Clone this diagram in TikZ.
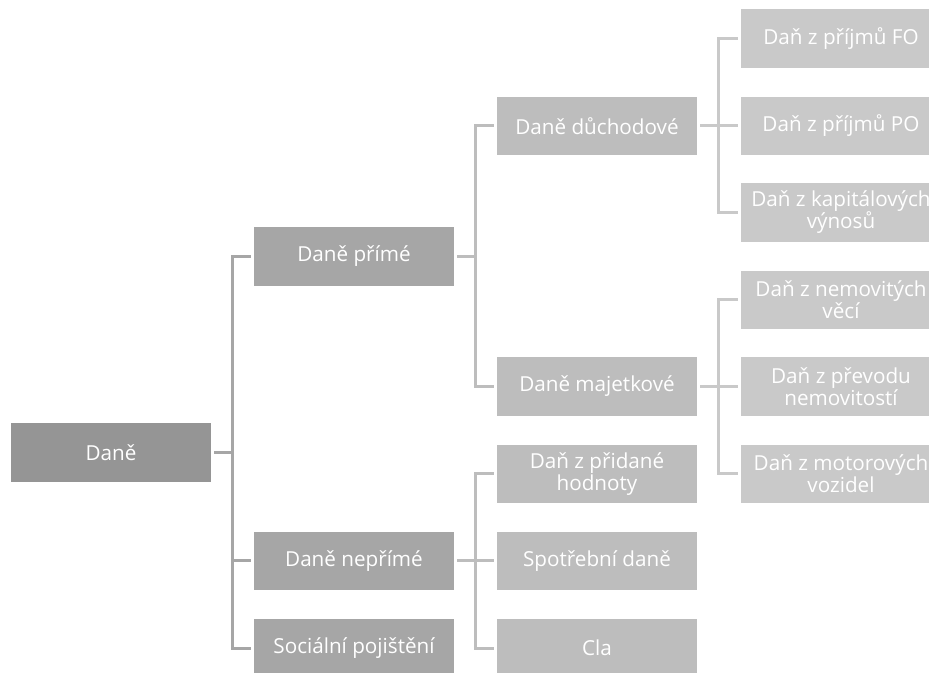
\documentclass[tikz,border=0pt]{standalone}
\usepackage{fontspec}
\setmainfont{Open Sans}
\usepackage{tikz}
\usetikzlibrary{graphs}

\definecolor{box0}{HTML}{959595}
\definecolor{box1}{HTML}{A6A6A6}
\definecolor{box2}{HTML}{BDBDBD}
\definecolor{box3}{HTML}{C9C9C9}

\begin{document}
\begin{tikzpicture}[x=0.75pt,y=-0.75pt,
    tbox/.style={rectangle, minimum width=150pt, minimum height=44pt, inner sep=0pt,
                 text=white, align=center, font=\fontsize{15.5}{16.5}\selectfont},
    lvl0/.style={tbox, fill=box0},
    lvl1/.style={tbox, fill=box1},
    lvl2/.style={tbox, fill=box2},
    lvl3/.style={tbox, fill=box3},
    elbow/.style={line width=2.25pt, shorten <=2.25pt, shorten >=2.25pt,
                  to path={(\tikztostart.east) -- ++(21,0) |- (\tikztotarget.west)}}]
    \useasboundingbox (0,0) rectangle (929,673);

    \node[lvl0] (dane) at (111,452.5) {Daně};

    \node[lvl1] (prime) at (354,256.5) {Daně přímé};
    \node[lvl1] (neprime) at (354,561) {Daně nepřímé};
    \node[lvl1] (soc) at (354,648) {Sociální pojištění};

    \node[lvl2] (duch) at (597,126) {Daně důchodové};
    \node[lvl2] (majet) at (597,386.5) {Daně majetkové};
    \node[lvl2] (dph) at (597,474) {Daň z přidané\\hodnoty};
    \node[lvl2] (spotr) at (597,561) {Spotřební daně};
    \node[lvl2] (cla) at (597,648) {Cla};

    \node[lvl3] (fo) at (841,38.5) {Daň z příjmů FO};
    \node[lvl3] (po) at (841,126) {Daň z příjmů PO};
    \node[lvl3] (kap) at (841,212.5) {Daň z kapitálových\\výnosů};
    \node[lvl3] (nemov) at (841,300) {Daň z nemovitých\\věcí};
    \node[lvl3] (prevod) at (841,386.5) {Daň z převodu\\nemovitostí};
    \node[lvl3] (motor) at (841,474) {Daň z motorových\\vozidel};

    \graph {
        (dane) --[elbow, box1] (prime);
        (dane) --[elbow, box1] (neprime);
        (dane) --[elbow, box1] (soc);
        (prime) --[elbow, box2] (duch);
        (prime) --[elbow, box2] (majet);
        (neprime) --[elbow, box2] (dph);
        (neprime) --[elbow, box2] (spotr);
        (neprime) --[elbow, box2] (cla);
        (duch) --[elbow, box3] (fo);
        (duch) --[elbow, box3] (po);
        (duch) --[elbow, box3] (kap);
        (majet) --[elbow, box3] (nemov);
        (majet) --[elbow, box3] (prevod);
        (majet) --[elbow, box3] (motor);
    };
\end{tikzpicture}
\end{document}
